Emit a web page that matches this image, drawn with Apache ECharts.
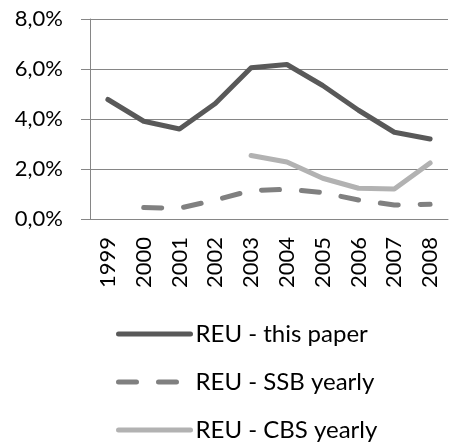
<!DOCTYPE html>
<html>
<head>
<meta charset="utf-8">
<script src="https://cdn.jsdelivr.net/npm/echarts@6/dist/echarts.min.js"></script>
<style>
  html, body { margin: 0; padding: 0; background: #fff; }
  #chart { width: 449px; height: 444px; }
</style>
</head>
<body>
<div id="chart"></div>
<script>
const years = ['1999', '2000', '2001', '2002', '2003', '2004', '2005', '2006', '2007', '2008']
// values in percent
const reuThisPaper = [4.78, 3.91, 3.60, 4.62, 6.05, 6.18, 5.34, 4.35, 3.47, 3.20]
const reuSsbYearly = [null, 0.46, 0.43, 0.76, 1.14, 1.19, 1.06, 0.76, 0.56, 0.59]
const reuCbsYearly = [null, null, null, null, 2.54, 2.28, 1.63, 1.23, 1.20, 2.24]
const yTicks = [0, 2, 4, 6, 8]

const chart = echarts.init(document.getElementById('chart'))
const font = 'Lato, "Liberation Sans", sans-serif'
const axisGray = '#868686'

const lineSeries = (name, data, color, type) => ({
  name: name,
  type: 'line',
  data: data,
  showSymbol: false,
  symbol: 'none',
  connectNulls: false,
  lineStyle: { color: color, width: 5, type: type, cap: 'round', join: 'round' },
  itemStyle: { color: color },
})

chart.setOption({
  animation: false,
  textStyle: { fontFamily: font },
  grid: { left: 90, top: 19, width: 358, height: 200 },
  xAxis: {
    type: 'category',
    data: years,
    boundaryGap: true,
    axisLine: { lineStyle: { color: axisGray, width: 1 } },
    axisTick: { length: 9, lineStyle: { color: axisGray } },
    axisLabel: { rotate: 90, margin: 18, fontSize: 22, color: '#000', fontFamily: font, interval: 0 },
  },
  yAxis: {
    type: 'value',
    min: yTicks[0],
    max: yTicks[yTicks.length - 1],
    interval: 2,
    axisLine: { show: true, lineStyle: { color: axisGray, width: 1 } },
    axisTick: { show: true, length: 9, lineStyle: { color: axisGray } },
    splitLine: { lineStyle: { color: axisGray, width: 1 } },
    axisLabel: {
      margin: 27,
      fontSize: 22,
      color: '#000',
      fontFamily: font,
      formatter: (v) => v.toFixed(1).replace('.', ',') + '%',
    },
  },
  legend: {
    orient: 'vertical',
    left: 111,
    top: 317,
    height: 200,
    itemWidth: 72,
    itemHeight: 6,
    itemGap: 24,
    itemStyle: { opacity: 0 },
    lineStyle: { width: 5, cap: 'round' },
    textStyle: { fontSize: 24, lineHeight: 24, color: '#000', fontFamily: font },
    data: ['REU - this paper', 'REU - SSB yearly', 'REU - CBS yearly'],
  },
  series: [
    lineSeries('REU - this paper', reuThisPaper, '#595959', 'solid'),
    lineSeries('REU - SSB yearly', reuSsbYearly, '#808080', [18, 22]),
    lineSeries('REU - CBS yearly', reuCbsYearly, '#b2b2b2', 'solid'),
  ],
})
</script>
</body>
</html>
